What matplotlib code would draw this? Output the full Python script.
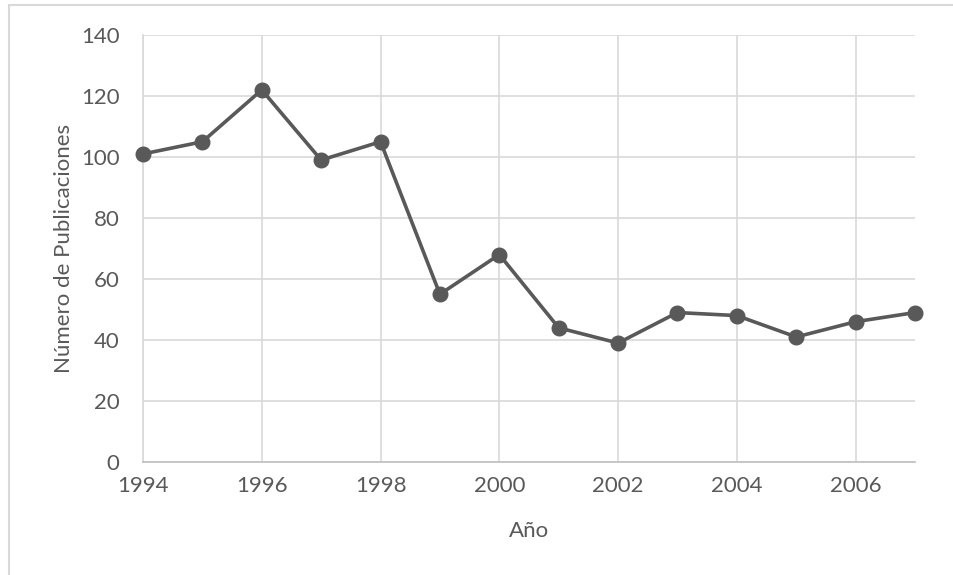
import matplotlib.pyplot as plt
from matplotlib.patches import Rectangle

years = [1994, 1995, 1996, 1997, 1998, 1999, 2000, 2001, 2002, 2003, 2004, 2005, 2006, 2007]
publicaciones = [101, 105, 122, 99, 105, 55, 68, 44, 39, 49, 48, 41, 46, 49]
xticks = [1994, 1996, 1998, 2000, 2002, 2004, 2006]
yticks = [0, 20, 40, 60, 80, 100, 120, 140]

TXT = "#595959"
GRID = "#d9d9d9"

plt.rcParams["font.family"] = ["Lato", "DejaVu Sans"]

fig = plt.figure(figsize=(9.54, 5.75), dpi=100)
ax = fig.add_axes([143 / 954, 1 - 462 / 575, (915 - 143) / 954, (462 - 35) / 575])

# outer chart border (only top/left visible in the original crop)
fig.patches.append(Rectangle((9 / 954, -0.1), 1.2, 1 - 5 / 575 + 0.1,
                             transform=fig.transFigure, fill=False,
                             edgecolor=GRID, linewidth=1.5))

ax.plot(years, publicaciones, color="#595959", linewidth=2.6,
        marker="o", markersize=10.5, zorder=3, clip_on=False)

ax.set_xlim(1994, 2007)
ax.set_ylim(0, 140)
ax.set_xticks(xticks)
ax.set_yticks(yticks)
ax.grid(True, color=GRID, linewidth=1.2)
ax.set_axisbelow(True)
for s in ["top", "right"]:
    ax.spines[s].set_visible(False)
ax.spines["left"].set_color(GRID)
ax.spines["left"].set_linewidth(1.2)
ax.spines["bottom"].set_color("#bfbfbf")
ax.spines["bottom"].set_linewidth(1.2)
ax.tick_params(length=0, labelsize=16, labelcolor=TXT)
ax.tick_params(axis="x", pad=10)
ax.tick_params(axis="y", pad=17)

ax.set_xlabel("Año", fontsize=16, color=TXT, labelpad=18)
ax.set_ylabel("Número de Publicaciones", fontsize=16, color=TXT, labelpad=5)

fig.savefig("out.png", dpi=100)
